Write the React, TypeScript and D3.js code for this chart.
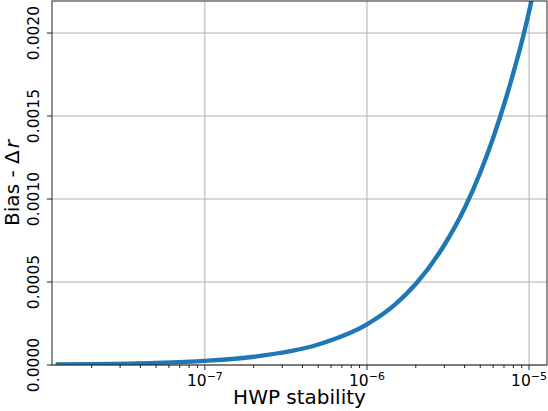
import { useEffect, useRef } from 'react';
import * as d3 from 'd3';

// values
const hwpStability = [
  1.2e-8, 2e-8, 5e-8, 1e-7, 2e-7, 5e-7, 1e-6, 1.5e-6, 2e-6, 3e-6, 4e-6, 5e-6,
  6e-6, 7e-6, 8e-6, 9e-6, 1e-5, 1.1e-5, 1.2e-5,
];
const biasDeltaR = [
  3.0e-6, 5.0e-6, 1.25e-5, 2.5e-5, 4.95e-5, 1.235e-4, 2.45e-4, 3.67e-4, 4.88e-4,
  7.23e-4, 9.44e-4, 1.16e-3, 1.368e-3, 1.568e-3, 1.76e-3, 1.944e-3, 2.13e-3,
  2.31e-3, 2.48e-3,
];
const yTicks = [0, 0.0005, 0.001, 0.0015, 0.002];
const xMajorExps = [-7, -6, -5];

const App = () => {
  const svgRef = useRef<SVGSVGElement>(null);

  useEffect(() => {
    const width = 548;
    const height = 411;
    const margin = { top: 1, right: 1, bottom: 46, left: 52 };
    const font = 'DejaVu Sans, sans-serif';

    const svg = d3.select(svgRef.current).attr('width', width).attr('height', height);
    svg.selectAll('*').remove();

    const x = d3
      .scaleLog()
      .domain([1.14e-8, 1.29e-5])
      .range([margin.left, width - margin.right]);
    const y = d3
      .scaleLinear()
      .domain([0, 0.002193])
      .range([height - margin.bottom, margin.top]);

    const [x0, x1] = x.range();
    const [y0, y1] = y.range();

    svg
      .append('defs')
      .append('clipPath')
      .attr('id', 'plot-clip')
      .append('rect')
      .attr('x', x0)
      .attr('y', y1)
      .attr('width', x1 - x0)
      .attr('height', y0 - y1);

    // grid
    const grid = svg.append('g').attr('stroke', '#b0b0b0').attr('stroke-width', 1);
    xMajorExps.forEach((e) => {
      const px = x(Math.pow(10, e));
      grid.append('line').attr('x1', px).attr('x2', px).attr('y1', y1).attr('y2', y0);
    });
    yTicks.forEach((t) => {
      const py = y(t);
      grid.append('line').attr('x1', x0).attr('x2', x1).attr('y1', py).attr('y2', py);
    });

    // curve
    const data = hwpStability.map((v, i) => ({ x: v, y: biasDeltaR[i] }));
    const line = d3
      .line<{ x: number; y: number }>()
      .x((d) => x(d.x))
      .y((d) => y(d.y))
      .curve(d3.curveMonotoneX);
    svg
      .append('path')
      .datum(data)
      .attr('clip-path', 'url(#plot-clip)')
      .attr('fill', 'none')
      .attr('stroke', '#1f77b4')
      .attr('stroke-width', 4.4)
      .attr('d', line);

    // spines
    svg
      .append('rect')
      .attr('x', x0)
      .attr('y', y1)
      .attr('width', x1 - x0)
      .attr('height', y0 - y1)
      .attr('fill', 'none')
      .attr('stroke', '#222')
      .attr('stroke-width', 1);

    // ticks
    const ticks = svg.append('g').attr('stroke', '#222').attr('stroke-width', 1);
    for (let e = -8; e <= -5; e++) {
      for (let m = 1; m <= 9; m++) {
        const v = m * Math.pow(10, e);
        if (v < x.domain()[0] || v > x.domain()[1]) continue;
        const px = x(v);
        ticks
          .append('line')
          .attr('x1', px)
          .attr('x2', px)
          .attr('y1', y0)
          .attr('y2', y0 + (m === 1 ? 5 : 3));
      }
    }
    yTicks.forEach((t) => {
      const py = y(t);
      ticks.append('line').attr('x1', x0 - 5).attr('x2', x0).attr('y1', py).attr('y2', py);
    });

    // x tick labels
    xMajorExps.forEach((e) => {
      const txt = svg
        .append('text')
        .attr('x', x(Math.pow(10, e)))
        .attr('y', 386)
        .attr('text-anchor', 'middle')
        .attr('font-family', font)
        .attr('font-size', 15.5)
        .attr('fill', '#000');
      txt.append('tspan').text('10');
      txt
        .append('tspan')
        .attr('dy', -6.5)
        .attr('font-size', 11)
        .text('\u2212' + Math.abs(e));
    });

    // y tick labels
    yTicks.forEach((t) => {
      svg
        .append('text')
        .attr('transform', `translate(38.5,${y(t)}) rotate(-90)`)
        .attr('text-anchor', 'middle')
        .attr('font-family', font)
        .attr('font-size', 15.5)
        .attr('fill', '#000')
        .text(t.toFixed(4));
    });

    // axis labels
    svg
      .append('text')
      .attr('x', (x0 + x1) / 2)
      .attr('y', 404)
      .attr('text-anchor', 'middle')
      .attr('font-family', font)
      .attr('font-size', 20)
      .attr('fill', '#000')
      .text('HWP stability');

    const yl = svg
      .append('text')
      .attr('transform', `translate(19,${(y0 + y1) / 2}) rotate(-90)`)
      .attr('text-anchor', 'middle')
      .attr('font-family', font)
      .attr('font-size', 20)
      .attr('fill', '#000');
    yl.append('tspan').text('Bias - \u0394');
    yl.append('tspan').attr('dx', 2).attr('font-style', 'italic').text('r');
  }, []);

  return (
    <div>
      <svg ref={svgRef} style={{ position: 'absolute', left: 0, top: 0 }}></svg>
    </div>
  );
};

export default App;
